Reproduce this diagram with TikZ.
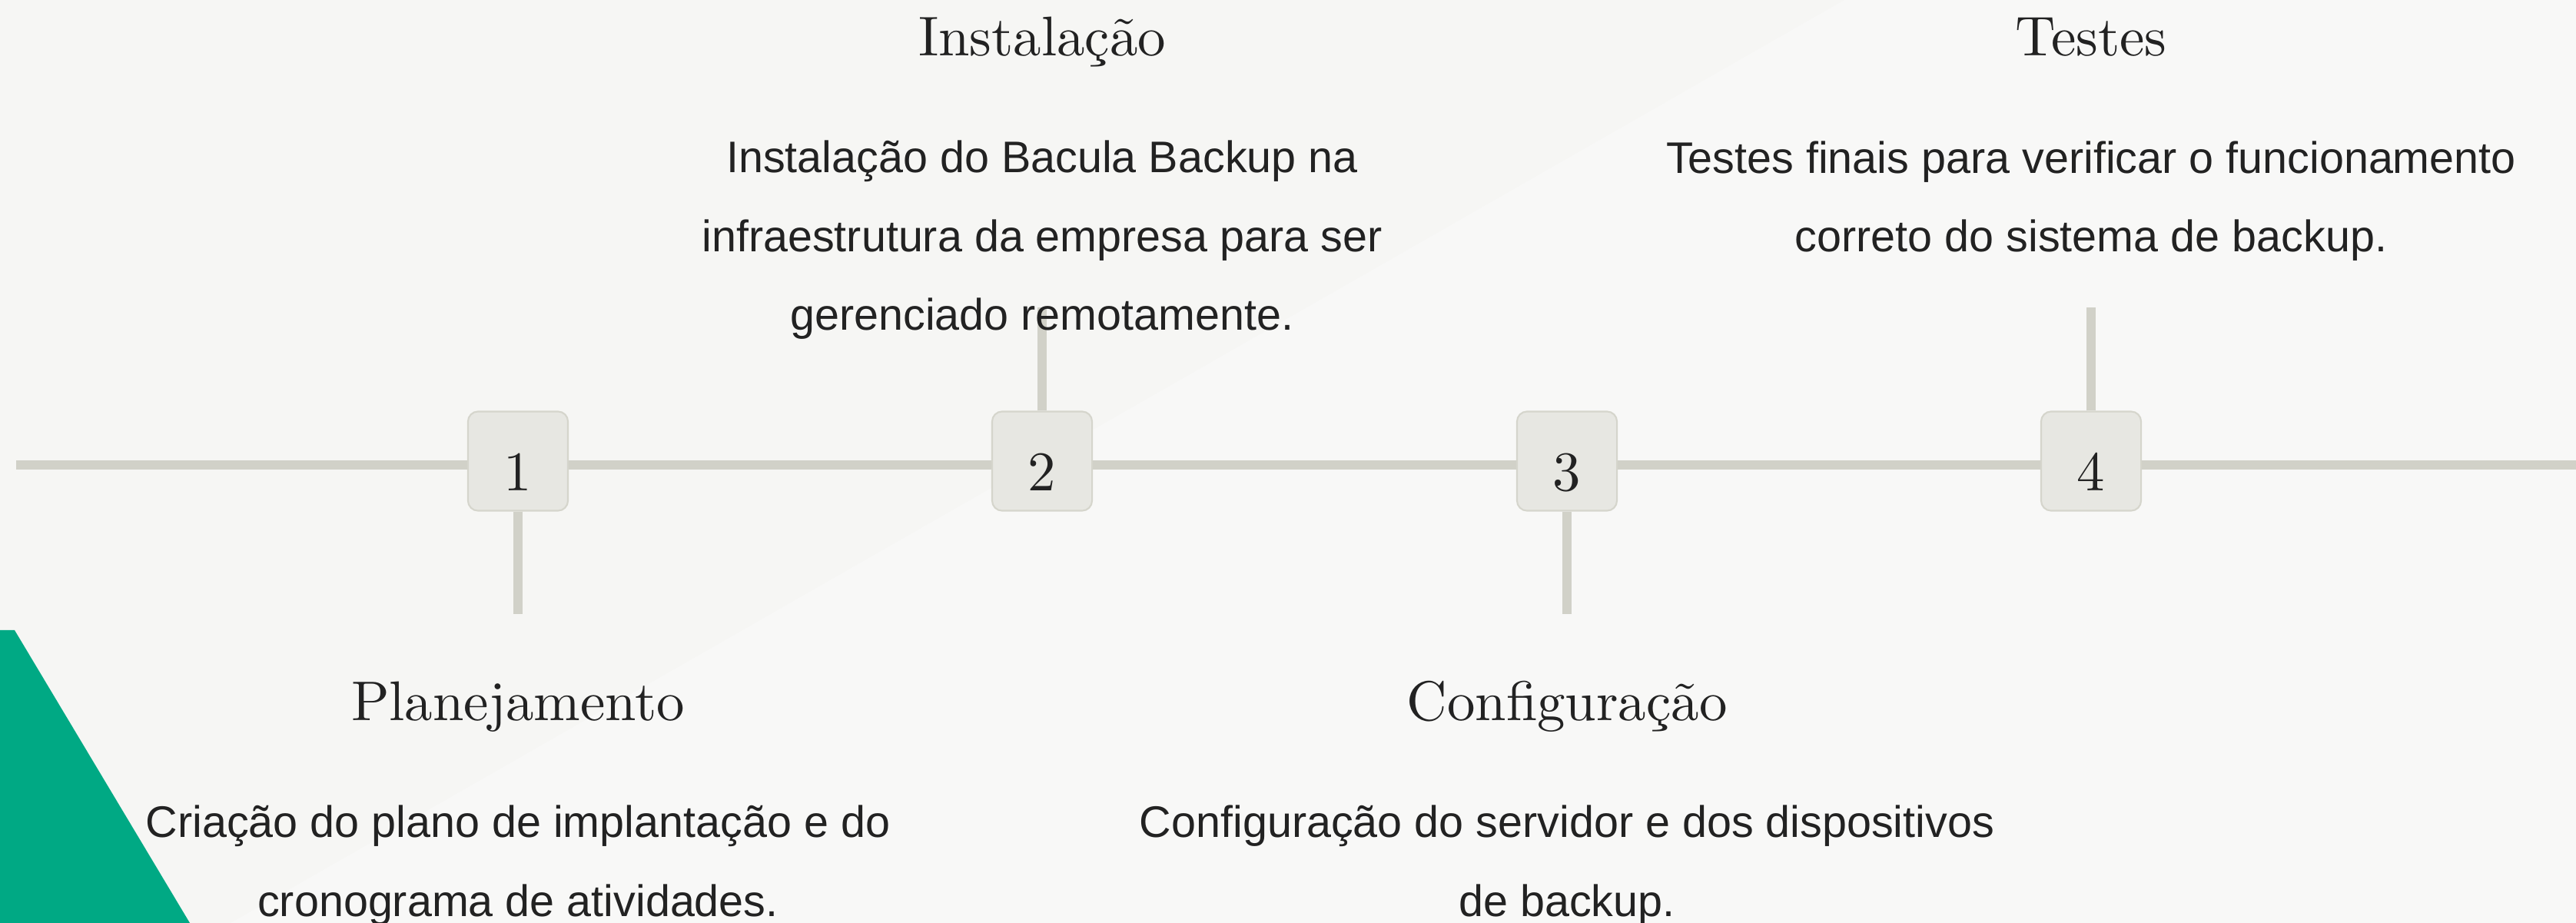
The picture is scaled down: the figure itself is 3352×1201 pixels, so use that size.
\documentclass[tikz,border=0pt]{standalone}
\usepackage{fontspec}
\newfontfamily\bodyfont{Liberation Sans}
\newfontfamily\titlefont{lmroman10-regular.otf}
\usetikzlibrary{calc}
\definecolor{PageGray}{HTML}{F6F6F4}
\definecolor{PageLight}{HTML}{F8F8F7}
\definecolor{TrackGray}{HTML}{D1D1C8}
\definecolor{BoxFill}{HTML}{E7E7E2}
\definecolor{BoxEdge}{HTML}{D5D5CC}
\definecolor{AccentGreen}{HTML}{00A984}
\definecolor{InkGray}{HTML}{222222}

\tikzset{
  track/.style={line width=0.12cm,draw=TrackGray},
  numbox/.style={draw=BoxEdge,line width=0.6pt,fill=BoxFill,rounded corners=0.13cm,
    minimum width=1.3cm,minimum height=1.29cm,inner sep=0pt,
    text height=0.76cm,text depth=0pt,font=\titlefont\fontsize{20.7}{25}\selectfont,text=InkGray},
  steptitle/.style={anchor=base,inner sep=0pt,font=\titlefont\fontsize{20.7}{25}\selectfont,text=InkGray},
  stepnote/.style={anchor=base,align=center,inner sep=0pt,
    font=\bodyfont\fontsize{16.35}{29.2}\selectfont,text=InkGray},
}

\begin{document}
\begin{tikzpicture}[x=0.01cm,y=-0.01cm]
    \useasboundingbox (0,0) rectangle (3352,1201);
    % page
    \fill[PageGray] (0,0) rectangle (3352,1201);
    \fill[PageLight] (300,1201) -- (2400,0) -- (3352,0) -- (3352,1201) -- cycle;
    \fill[AccentGreen] (0,820) -- (19,820) -- (247,1201) -- (0,1201) -- cycle;
    % timeline
    \coordinate (tl) at (21,605);
    \coordinate (tr) at (3352,605);
    \draw[track] (tl) -- (tr);
    \foreach \x/\num in {674/1,1356/2,2039/3,2721/4} {
     \node[numbox] (n\num) at (\x,600) {\num};
    }
    \foreach \num/\y in {1/799,2/400,3/799,4/400} {
     \coordinate (s\num) at ($(n\num) + (0,\y-600)$);
     \draw[track] (n\num) -- (s\num);
    }
    % texts (anchored on the last line)
    \node[steptitle] (t1) at (674,937) {Planejamento};
    \node[steptitle] (t2) at (1356,73) {Instalação};
    \node[steptitle] (t3) at (2039,937) {Configuração};
    \node[steptitle] (t4) at (2721,73) {Testes};
    \node[stepnote] (d1) at (674,1192) {Criação do plano de implantação e do\\cronograma de atividades.};
    \node[stepnote] (d2) at (1356,430) {Instalação do Bacula Backup na\\infraestrutura da empresa para ser\\gerenciado remotamente.};
    \node[stepnote] (d3) at (2039,1192) {Configuração do servidor e dos dispositivos\\de backup.};
    \node[stepnote] (d4) at (2721,328) {Testes finais para verificar o funcionamento\\correto do sistema de backup.};
\end{tikzpicture}
\end{document}
